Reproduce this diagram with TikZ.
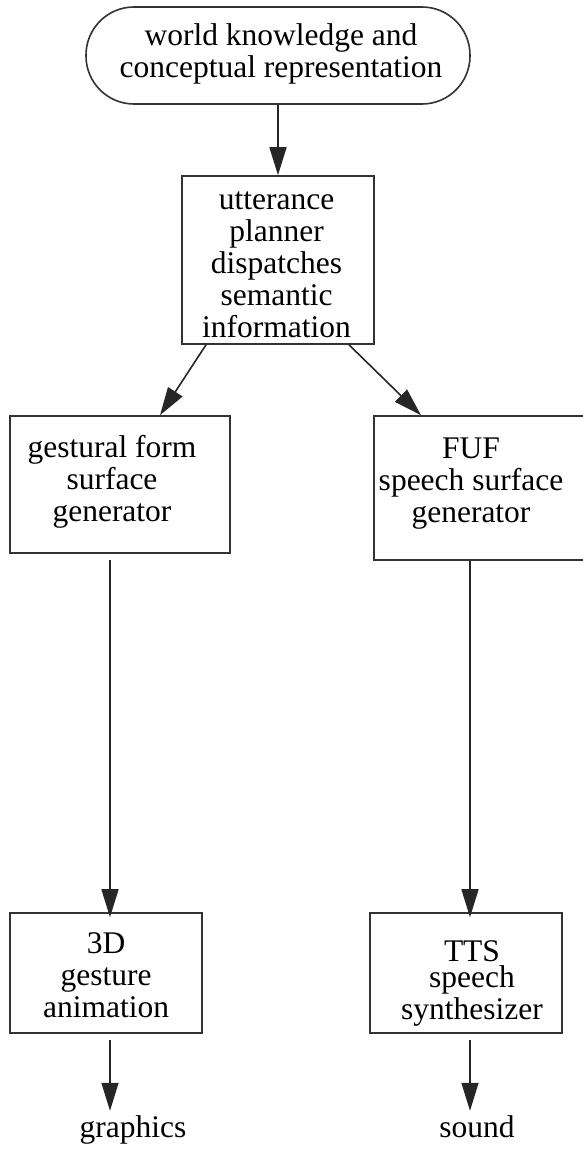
\documentclass[tikz,border=0pt]{standalone}
\usepackage{fontspec}
\setmainfont{Liberation Serif}
\usetikzlibrary{arrows.meta}
\newcommand{\firstline}{\rule{0pt}{24pt}}
\begin{document}
\begin{tikzpicture}[x=1pt,y=-1pt,
  box/.style={draw=black!80, line width=1.6pt, inner sep=0pt},
  txt/.style={font=\fontsize{31.5}{32}\selectfont, align=center, inner sep=0pt, anchor=north},
  lbl/.style={font=\fontsize{31.5}{32}\selectfont, inner sep=0pt, anchor=base},
  arr/.style={draw=black!85, line width=1.6pt, -{Triangle[length=28pt,width=17pt]}}]
\useasboundingbox (0,0) rectangle (582,1152);
% boxes
\node[box, rounded corners=48pt, minimum width=384pt, minimum height=97pt] (world) at (278,55.5) {};
\node[box, minimum width=192pt, minimum height=168pt] (plan) at (278,260) {};
\node[box, minimum width=220pt, minimum height=137pt] (gest) at (120,484.5) {};
\node[box, minimum width=210pt, minimum height=144pt] (fuf) at (479,488) {};
\node[box, minimum width=192pt, minimum height=120pt] (ani) at (106,973) {};
\node[box, minimum width=192pt, minimum height=120pt] (tts) at (466,973) {};
% texts
\node[txt] (worldt) at (281,21) {\firstline world knowledge and\\conceptual representation};
\node[txt] (plant) at (276.5,185) {\firstline utterance\\planner\\dispatches\\semantic\\information};
\node[txt] (gestt) at (112,433) {\firstline gestural form\\surface\\generator};
\node[txt] (euft) at (471,434) {\firstline FUF\\speech surface\\generator};
\node[txt] (anit) at (106,929) {\firstline 3D\\gesture\\animation};
\node[txt] (ttst) at (472,937) {\firstline TTS\\[-6pt]speech\\synthesizer};
\node[lbl] (gr) at (133,1137) {graphics};
\node[lbl] (snd) at (477,1137) {sound};
% connectors
\draw[arr] (world.south) -- (plan.north);
\draw[arr] ([xshift=-72pt]plan.south) -- ([xshift=40pt]gest.north);
\draw[arr] ([xshift=71pt]plan.south) -- ([xshift=-58pt]fuf.north);
\draw[arr] ([xshift=-10pt,yshift=-6pt]gest.south) -- ([xshift=4pt,yshift=-5pt]ani.north);
\draw[arr] ([xshift=-9pt]fuf.south) -- ([xshift=4pt,yshift=-5pt]tts.north);
\draw[arr] ([xshift=4pt,yshift=-6pt]ani.south) -- ([xshift=4pt,yshift=-77pt]ani.south);
\draw[arr] ([xshift=4pt,yshift=-6pt]tts.south) -- ([xshift=4pt,yshift=-77pt]tts.south);
\end{tikzpicture}
\end{document}
